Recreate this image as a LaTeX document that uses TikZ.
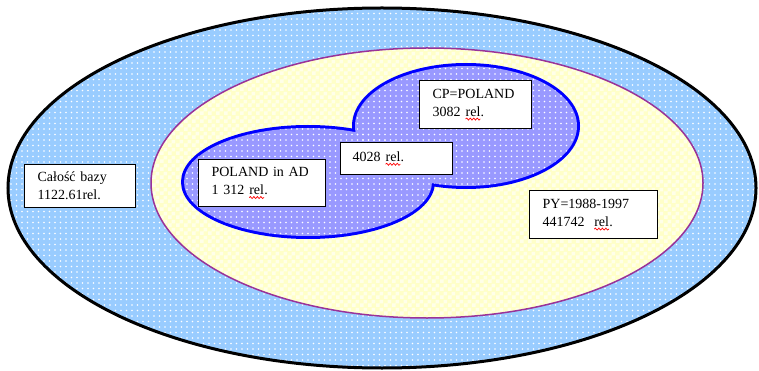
\documentclass[tikz,border=0pt]{standalone}
\usepackage{fontspec}
\setmainfont{Liberation Serif}
\usetikzlibrary{patterns,patterns.meta,decorations.pathmorphing}
\newcommand\redwave[1]{\tikz[baseline=(w.base)]{\node[inner sep=0pt,outer sep=0pt,draw=none,fill=none,minimum width=0pt,minimum height=0pt,text width={},anchor=base](w) at (0,0){#1};\draw[red,line width=0.7pt,decorate,decoration={snake,amplitude=1pt,segment length=3.5pt}] ([yshift=-3pt]w.base west) -- ([yshift=-3pt]w.base east);}}
\pgfdeclarepatternformonly{mychecks}{\pgfpointorigin}{\pgfqpoint{8pt}{8pt}}{\pgfqpoint{8pt}{8pt}}{%
  \pgfpathrectangle{\pgfpointorigin}{\pgfqpoint{4pt}{4pt}}%
  \pgfpathrectangle{\pgfqpoint{4pt}{4pt}}{\pgfqpoint{4pt}{4pt}}%
  \pgfusepath{fill}}
\definecolor{outerblue}{HTML}{99CCFF}
\definecolor{paleyellow}{HTML}{FFFFC8}
\definecolor{setblue}{HTML}{9999FF}
\definecolor{setedge}{HTML}{0000FF}
\definecolor{plum}{HTML}{993399}
\tikzset{
  labelbox/.style={draw=black, line width=1.2pt, fill=white, anchor=north west,
    font=\fontsize{14}{18}\selectfont, align=left, inner xsep=13pt, inner ysep=0pt},
  dotfill/.style={pattern={Dots[distance=5.5pt,radius=0.9pt]}, pattern color=white},
}
\begin{document}
\begin{tikzpicture}[x=1pt,y=-1pt]
\useasboundingbox (0,0) rectangle (759,371);
% outer set
\fill[outerblue] (382,188) ellipse [x radius=374, y radius=180];
\path[dotfill] (382,188) ellipse [x radius=374, y radius=180];
\draw[black, line width=3pt] (382,188) ellipse [x radius=374, y radius=180];
% PY set
\fill[paleyellow] (427,183) ellipse [x radius=276, y radius=135];
\path[pattern=mychecks, pattern color=white!60!paleyellow] (427,183) ellipse [x radius=276, y radius=135];
\draw[plum, line width=1.5pt] (427,183) ellipse [x radius=276, y radius=135];
% the two overlapping sets: outline of their union
\draw[setedge, line width=6pt] (466,126) ellipse [x radius=111, y radius=60];
\draw[setedge, line width=6pt] (308,182) ellipse [x radius=124, y radius=54];
\fill[setblue] (466,126) ellipse [x radius=111, y radius=60];
\fill[setblue] (308,182) ellipse [x radius=124, y radius=54];
\path[dotfill] (466,126) ellipse [x radius=111, y radius=60];
\path[dotfill] (308,182) ellipse [x radius=124, y radius=54];
% labels
\node[labelbox, minimum width=111pt, minimum height=43pt, text width=85pt] (whole) at (24,164) {Całość bazy\\1122.61rel.};
\node[labelbox, minimum width=127pt, minimum height=47pt, text width=101pt] (ad) at (198,159) {POLAND in AD\\1 312 \redwave{rel}.};
\node[labelbox, minimum width=112pt, minimum height=32pt, inner xsep=12pt, text width=88pt] (both) at (340,142) {4028 \redwave{rel}.};
\node[labelbox, minimum width=112pt, minimum height=48pt, text width=86pt] (cp) at (419,80) {CP=POLAND\\3082 \redwave{rel}.};
\node[labelbox, minimum width=128pt, minimum height=48pt, text width=102pt] (py) at (529,190) {PY=1988-1997\\441742 \ \redwave{rel}.};
\end{tikzpicture}
\end{document}
